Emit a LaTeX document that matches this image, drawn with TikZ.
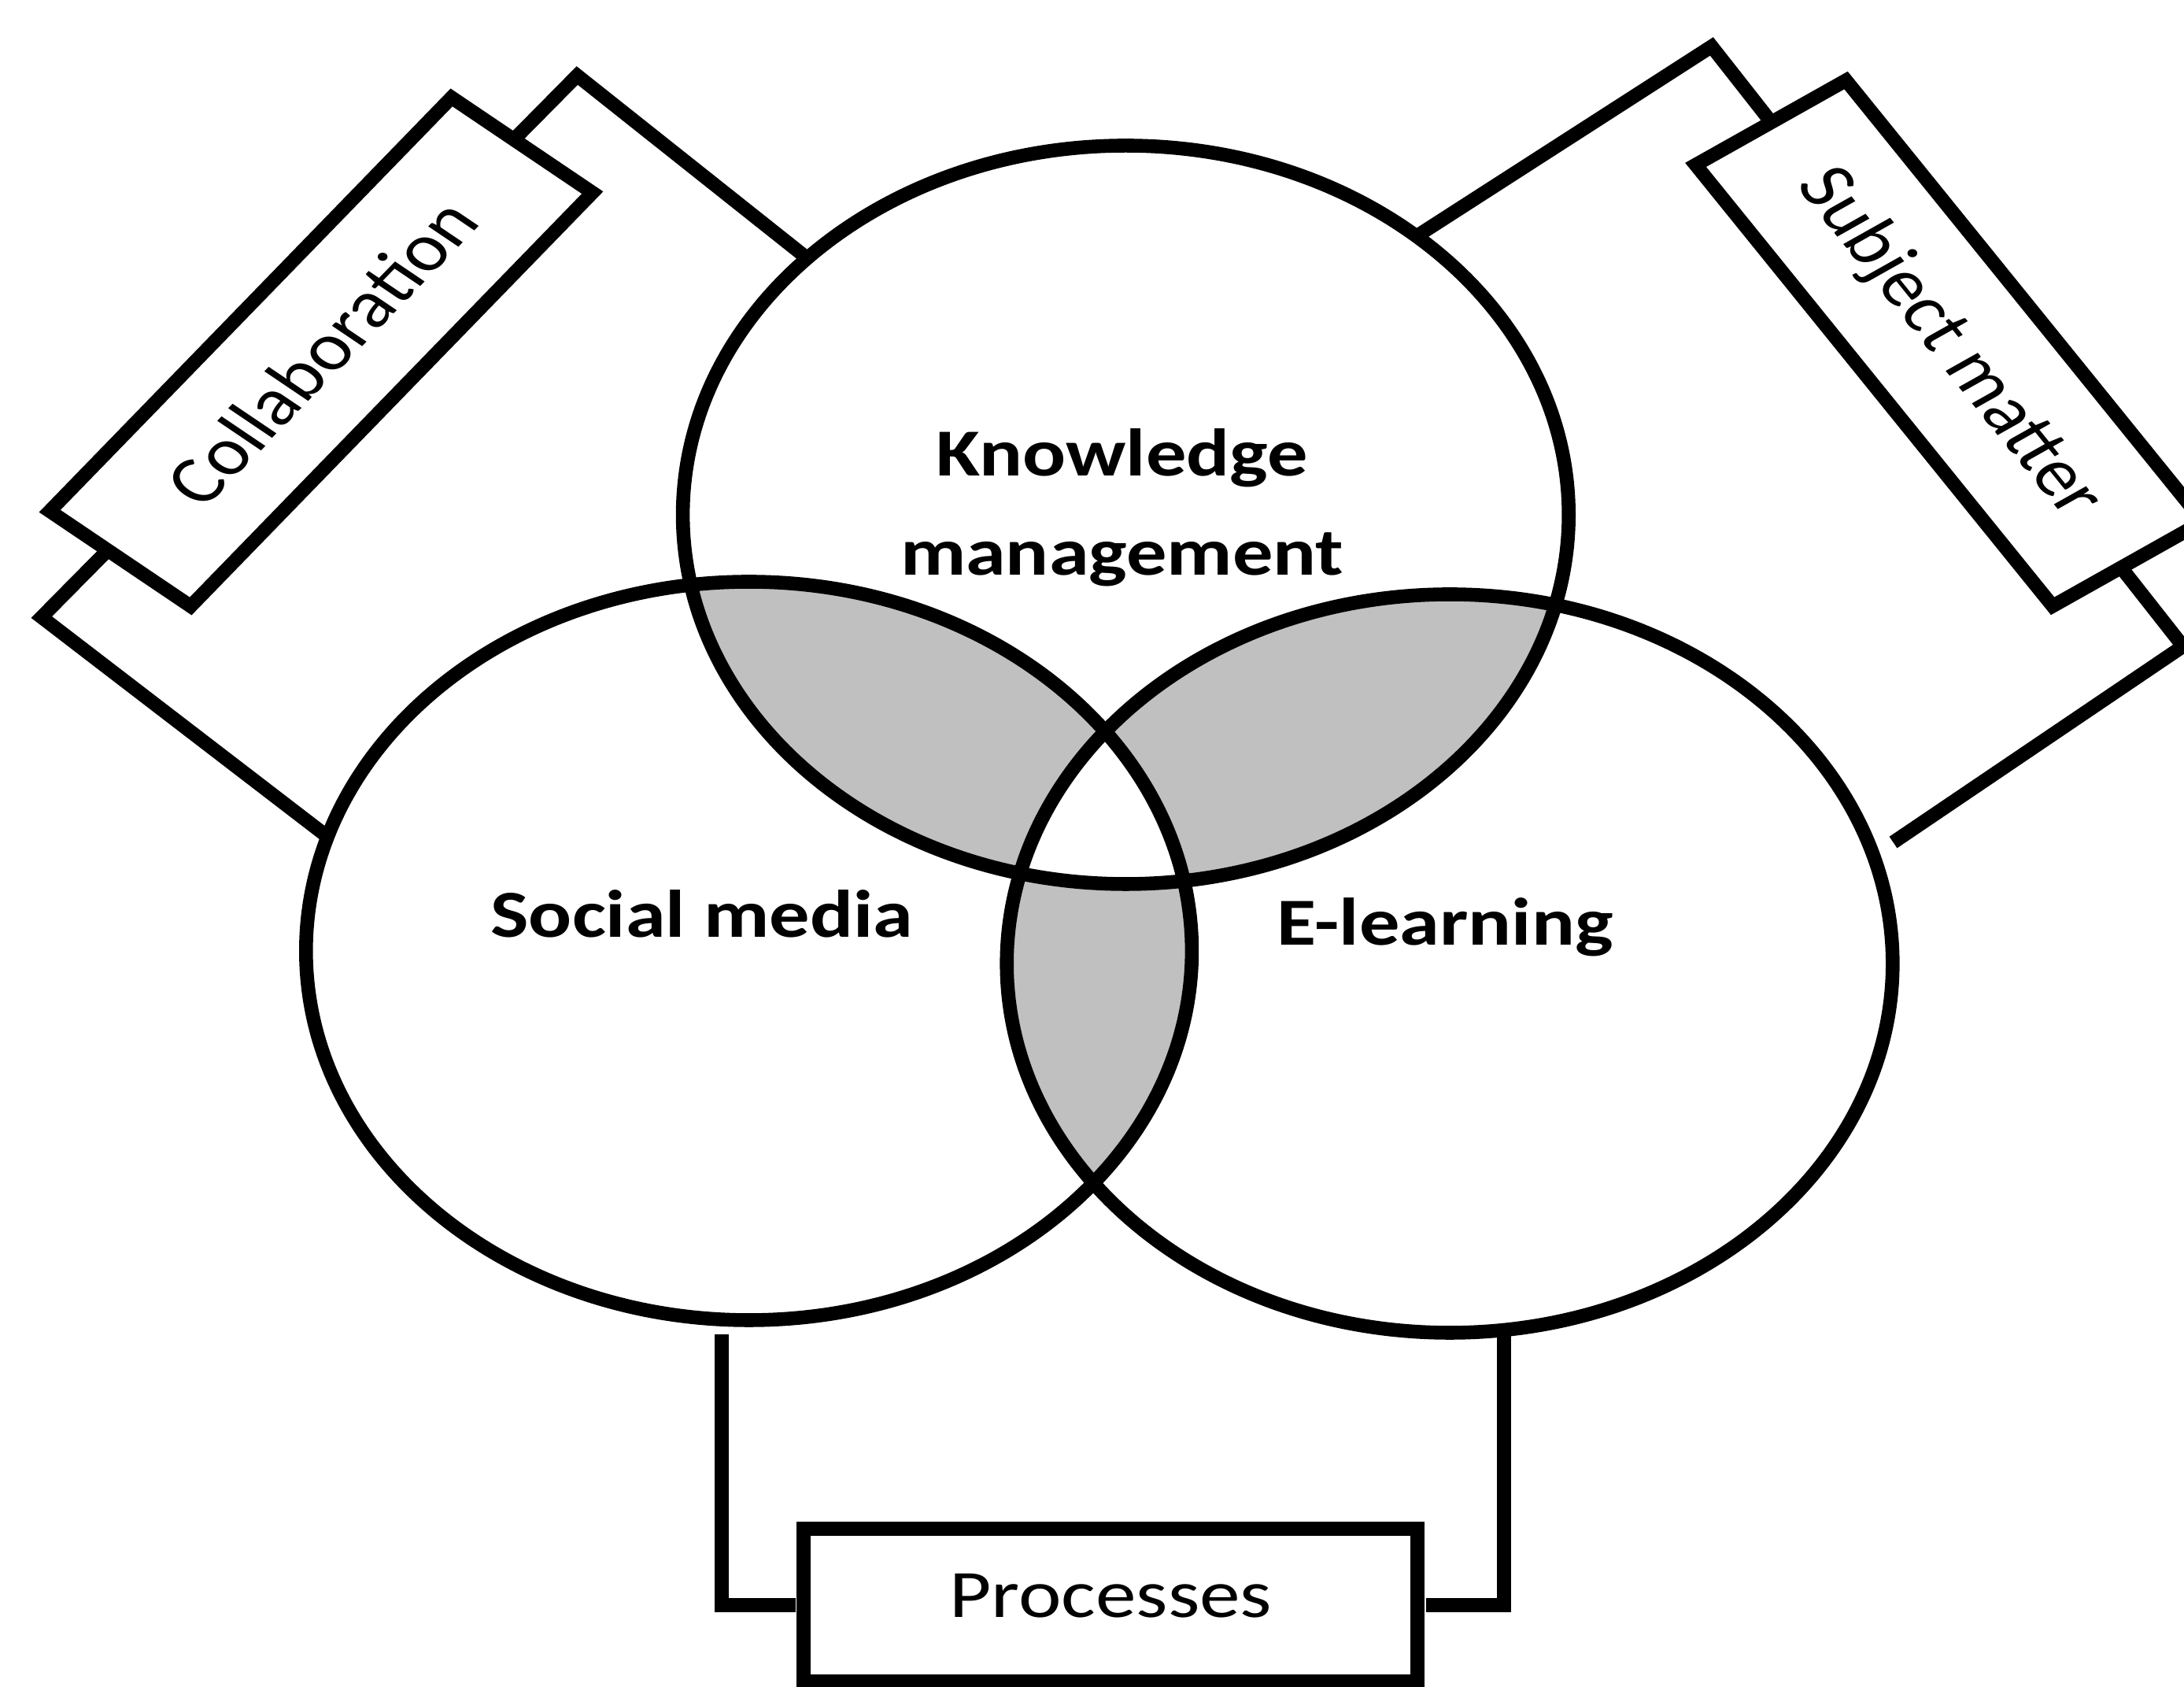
\documentclass[tikz,border=0pt]{standalone}
\usepackage{fontspec}
\setmainfont{Carlito}
\usepackage{xcolor}
\usetikzlibrary{shapes,positioning,backgrounds}

\definecolor{lensgray}{RGB}{192,192,192}

\begin{document}
\begin{tikzpicture}[
    xscale=1.2,
    every node/.append style={transform shape},
    venn/.style={circle, draw, line width=5pt, minimum size=9.38cm, inner sep=0pt, outer sep=0pt},
    setlabel/.style={font=\fontsize{24.3}{36}\selectfont\bfseries, align=center},
    topicbox/.style={rectangle, draw, fill=white, line width=5pt, minimum width=6.76cm, minimum height=1.92cm, inner sep=0pt, font=\fontsize{24.5}{30}\selectfont},
    bracket/.style={line width=5pt}
]
\useasboundingbox (0,0) rectangle (23.125,21.43);

\node[venn] (km) at (11.92,14.89) {};
\node[venn] (sm) at (7.93,9.35) {};
\node[venn] (el) at (15.35,9.19) {};

\node[setlabel] (kmlabel) at (11.88,14.98) {Knowledge\\management};
\node[setlabel] (smlabel) at (7.43,9.82) {Social media};
\node[setlabel] (ellabel) at (15.30,9.65) {E-learning};

\node[topicbox, rotate=51] (collab) at (3.40,16.96) {Collaboration};
\node[topicbox, rotate=-56] (subject) at (20.64,17.07) {Subject matter};
\node[topicbox, minimum width=6.5cm, minimum height=1.94cm, text depth=0.24cm] (proc) at (11.76,1.04) {Processes};

\coordinate (collabA) at (0.44,13.59);
\coordinate (collabB) at (6.11,20.47);
\coordinate (subjectA) at (18.12,20.84);
\coordinate (subjectB) at (23.11,13.22);
\coordinate (procA) at (7.64,4.48);
\coordinate (procB) at (15.92,4.55);

\begin{scope}[on background layer]
  % overlaps of two sets
  \begin{scope}
    \clip (km.center) circle (4.69);
    \fill[lensgray] (sm.center) circle (4.69);
    \fill[lensgray] (el.center) circle (4.69);
  \end{scope}
  \begin{scope}
    \clip (sm.center) circle (4.69);
    \fill[lensgray] (el.center) circle (4.69);
  \end{scope}
  % the middle stays white
  \begin{scope}
    \clip (km.center) circle (4.69);
    \clip (sm.center) circle (4.69);
    \fill[white] (el.center) circle (4.69);
  \end{scope}
  \draw[bracket] (sm.162) -- (collabA) -- (collabB) -- (km.136);
  \draw[bracket, shorten <=0.3cm] (el.17) -- (subjectB) -- (subjectA) -- (km.49);
  \draw[bracket] (procA) |- (proc.west);
  \draw[bracket] (procB) |- (proc.east);
\end{scope}
\end{tikzpicture}
\end{document}
